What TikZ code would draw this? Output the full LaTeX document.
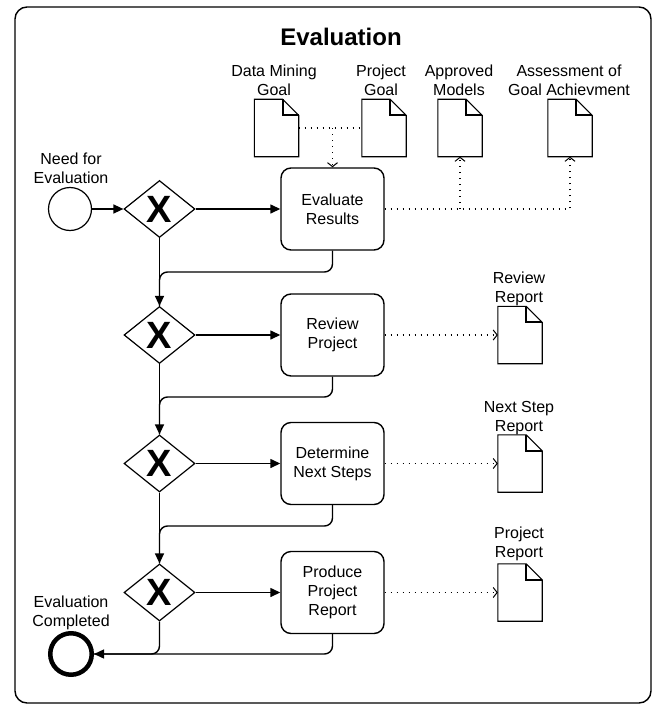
\documentclass[tikz,border=0pt]{standalone}
\usepackage{fontspec}
\setmainfont{Liberation Sans}
\usetikzlibrary{arrows.meta,shapes.geometric,calc}
\begin{document}
\begin{tikzpicture}[x=1pt,y=-1pt,
  font=\fontsize{16}{19}\selectfont,
  flow/.style={line width=1.4pt,-{Triangle[length=10pt,width=9pt]}},
  plainflow/.style={line width=1.4pt},
  info/.style={line width=1.2pt,dash pattern=on 1.2pt off 4.8pt},
  infoarrow/.style={info,-{Straight Barb[length=4pt,width=10pt,line width=1pt]}},
  task/.style={draw,line width=1.4pt,rounded corners=10pt,minimum width=103pt,minimum height=82pt,align=center,inner sep=0pt},
  gate/.style={draw,diamond,line width=1.2pt,minimum width=71pt,minimum height=57pt,inner sep=0pt,font=\fontsize{38}{38}\selectfont\bfseries},
  docnode/.style={minimum width=44pt,minimum height=57pt,inner sep=0pt},
  lbl/.style={align=center,anchor=base,inner sep=0pt},
]
\useasboundingbox (0,0) rectangle (657,706);
\fill[white] (0,0) rectangle (657,706);
\draw[line width=1.4pt,rounded corners=12pt] (15,7) rectangle (651,703);

\node[anchor=base,inner sep=0pt,font=\fontsize{24}{28}\selectfont\bfseries] (title) at (341,46) {Evaluation};

% events
\node[circle,draw,line width=1.2pt,minimum size=43pt,inner sep=0pt] (start) at (70,209) {};
\node[circle,draw,line width=4.5pt,minimum size=41.5pt,inner sep=0pt] (endc) at (71,654) {};
\node[lbl] (lstart) at (71,183) {Need for\\Evaluation};
\node[lbl] (lend) at (71,626) {Evaluation\\Completed};

% gateways
\node[gate] (gw1) at (159.5,209) {X};
\node[gate] (gw2) at (159.5,335) {X};
\node[gate] (gw3) at (159.5,463.5) {X};
\node[gate] (gw4) at (159.5,592.5) {X};

% tasks
\node[task] (t1) at (332.5,209) {Evaluate\\Results};
\node[task] (t2) at (332.5,335) {Review\\Project};
\node[task] (t3) at (332.5,463.5) {Determine\\Next Steps};
\node[task] (t4) at (332.5,592.5) {Produce\\Project\\Report};

% documents
\node[docnode] (d1) at (276.5,128) {};
\node[docnode] (d2) at (384,128) {};
\node[docnode] (d3) at (460,128) {};
\node[docnode] (d4) at (570,128) {};
\node[docnode] (r2) at (520,335) {};
\node[docnode] (r3) at (520,463.5) {};
\node[docnode] (r4) at (520,592.5) {};
\foreach \n in {d1,d2,d3,d4,r2,r3,r4}{
  \draw[line width=1.1pt,line join=miter] (\n.north west) -- ($(\n.north east)+(-16,0)$) -- ($(\n.north east)+(0,16)$) -- (\n.south east) -- (\n.south west) -- cycle;
  \draw[line width=2.2pt] ($(\n.north east)+(-16,0)$) |- ($(\n.north east)+(0,16)$);
}

% document labels
\node[lbl] (ld1) at (274,96) {Data Mining\\Goal};
\node[lbl] (ld2) at (381,96) {Project\\Goal};
\node[lbl] (ld3) at (459,96) {Approved\\Models};
\node[lbl] (ld4) at (569,96) {Assessment of\\Goal Achievment};
\node[lbl] (lr2) at (519,302) {Review\\Report};
\node[lbl] (lr3) at (519,431) {Next Step\\Report};
\node[lbl] (lr4) at (519,557) {Project\\Report};

% sequence flows
\coordinate (c1) at (159.5,272);
\coordinate (c2) at (159.5,397);
\coordinate (c3) at (159.5,526);
\draw[flow] (start) -- (gw1);
\draw[flow] (gw1) -- (t1);
\draw[flow] (gw2) -- (t2);
\draw[flow] (gw3) -- (t3);
\draw[flow] (gw4) -- (t4);
\draw[flow] (gw1) -- (gw2);
\draw[flow] (gw2) -- (gw3);
\draw[flow] (gw3) -- (gw4);
\draw[plainflow,rounded corners=8pt] (t1.south) |- (c1) -- (gw2.north);
\draw[plainflow,rounded corners=8pt] (t2.south) |- (c2) -- (gw3.north);
\draw[plainflow,rounded corners=8pt] (t3.south) |- (c3) -- (gw4.north);
\draw[flow,rounded corners=8pt] (t4.south) |- (endc.east);
\draw[plainflow,rounded corners=8pt] (gw4.south) |- (endc.east);

% data associations
\coordinate (jn) at (t1.north |- d1.east);
\draw[info] (d1.east) -- (d2.west);
\draw[infoarrow] (jn) -- (t1.north);
\draw[infoarrow] (t1.east) -| (d4.south);
\draw[infoarrow] (t1.east -| d3.south) -- (d3.south);
\draw[infoarrow] (t2.east) -- (r2.west);
\draw[infoarrow] (t3.east) -- (r3.west);
\draw[infoarrow] (t4.east) -- (r4.west);
\end{tikzpicture}
\end{document}
